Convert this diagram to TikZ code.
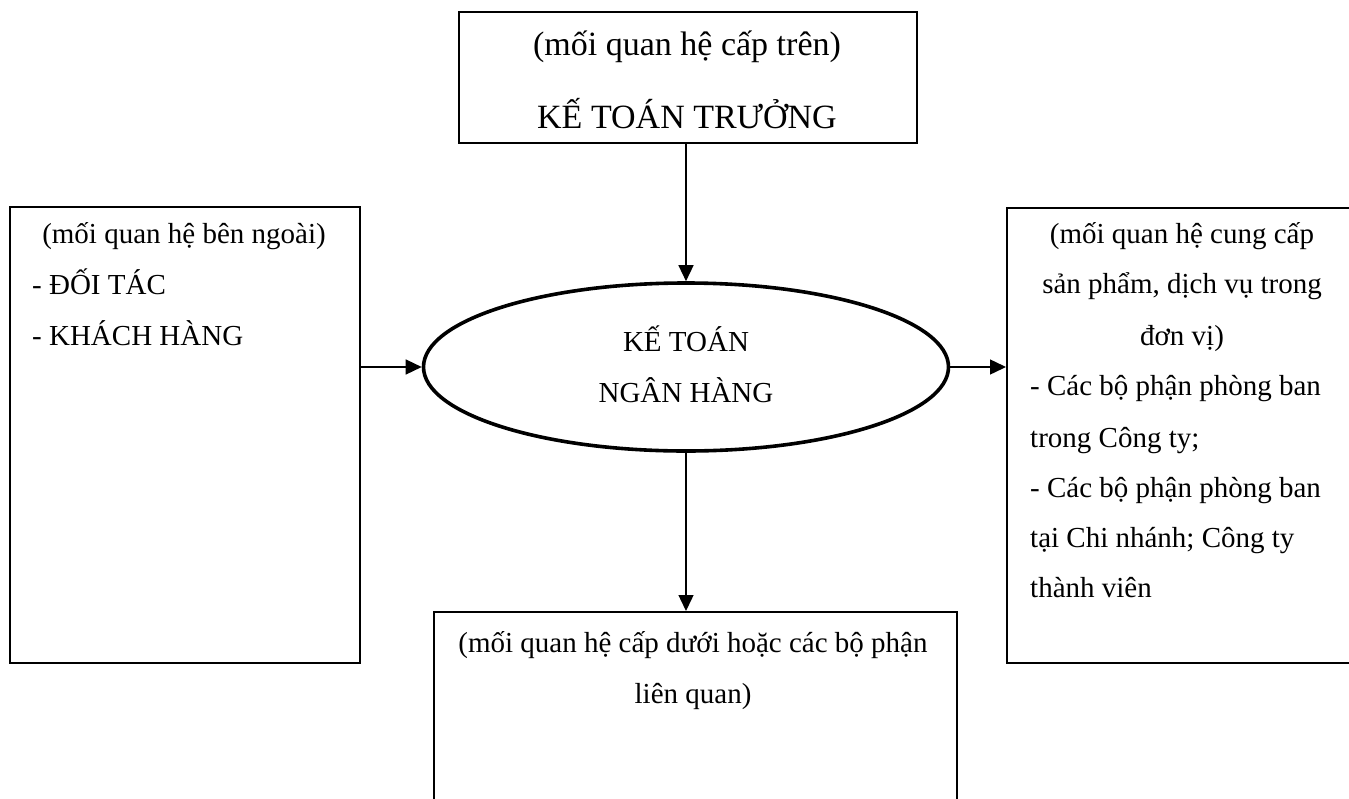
\documentclass[tikz,border=0pt]{standalone}
\usepackage{fontspec}
\setmainfont{Liberation Serif}
\usetikzlibrary{shapes.geometric,arrows.meta}
\begin{document}
\begin{tikzpicture}[x=1pt,y=-1pt,
  frame/.style={draw, line width=1.6pt, inner sep=0pt, anchor=north west},
  oval/.style={draw, ellipse, line width=3.6pt, inner sep=0pt},
  link/.style={line width=1.4pt, -{Triangle[length=16pt,width=15pt]}},
  body/.style={font=\fontsize{29}{35}\selectfont, inner sep=0pt, anchor=base},
  bodyl/.style={body, anchor=base west},
  head/.style={font=\fontsize{34}{40}\selectfont, inner sep=0pt, anchor=base}]
\useasboundingbox (0,0) rectangle (1349,798);
\begin{scope}
\clip (0,0) rectangle (1349,798);
% boxes
\node[frame, minimum width=458pt, minimum height=131pt] (sup) at (458,11) {};
\node[frame, minimum width=350pt, minimum height=456pt] (ext) at (9,206) {};
\node[frame, minimum width=360pt, minimum height=455pt] (svc) at (1006,207) {};
\node[frame, minimum width=523pt, minimum height=240pt] (sub) at (433,611) {};
\node[oval, minimum width=525pt, minimum height=168pt] (core) at (686,367) {};

% connectors
\draw[link] (sup.south -| core.north) -- (core.north);
\draw[link] (ext.east |- core.west) -- (core.west);
\draw[link] (core.east) -- (svc.west |- core.east);
\draw[link] (core.south) -- (core.south |- sub.north);
\end{scope}

% top box
\node[head] (t1) at (687,55) {(mối quan hệ cấp trên)};
\node[head] (t2) at (687,128) {KẾ TOÁN TRƯỞNG};

% centre
\node[body] (c1) at (686,351) {KẾ TOÁN};
\node[body] (c2) at (686,402) {NGÂN HÀNG};

% left box
\node[body] (l1) at (184,243) {(mối quan hệ bên ngoài)};
\node[bodyl] (l2) at (32,294) {- ĐỐI TÁC};
\node[bodyl] (l3) at (32,345) {- KHÁCH HÀNG};

% right box
\node[body] (r1) at (1182,243) {(mối quan hệ cung cấp};
\node[body] (r2) at (1182,293) {sản phẩm, dịch vụ trong};
\node[body] (r3) at (1182,345) {đơn vị)};
\node[bodyl] (r4) at (1030,395) {- Các bộ phận phòng ban};
\node[bodyl] (r5) at (1030,447) {trong Công ty;};
\node[bodyl] (r6) at (1030,497) {- Các bộ phận phòng ban};
\node[bodyl] (r7) at (1030,547) {tại Chi nhánh; Công ty};
\node[bodyl] (r8) at (1030,597) {thành viên};

% bottom box
\node[body] (b1) at (693,652) {(mối quan hệ cấp dưới hoặc các bộ phận};
\node[body] (b2) at (693,703) {liên quan)};
\end{tikzpicture}
\end{document}
